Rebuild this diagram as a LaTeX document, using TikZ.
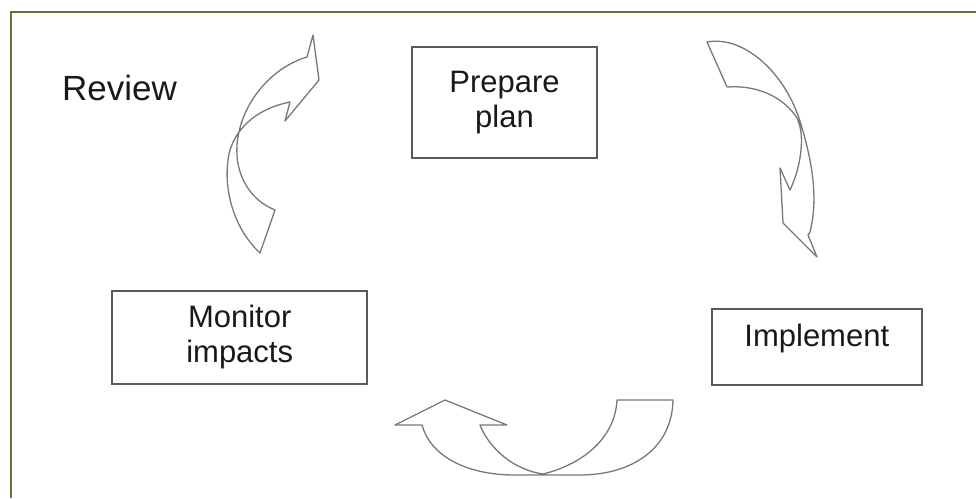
\documentclass[tikz,border=0pt]{standalone}
\usepackage{fontspec}
\setmainfont{Liberation Sans}
\usepackage{xcolor}
\usetikzlibrary{positioning}
\definecolor{framegreen}{RGB}{96,118,52}
\definecolor{boxgray}{RGB}{90,90,90}
\definecolor{arrowgray}{RGB}{120,120,120}
\definecolor{textdark}{RGB}{25,25,25}

\begin{document}
\begin{tikzpicture}[x=1pt, y=-1pt]
    \tikzstyle{stagebox} = [draw=boxgray, rectangle, line width=1.8pt, align=center, text=textdark, font=\fontsize{31}{35}\selectfont, inner sep=0pt]
    \tikzstyle{bentarrow} = [draw=arrowgray, line width=1.3pt, line join=round, fill=white]

    \useasboundingbox (0,0) rectangle (976,498);
    % frame
    \draw [framegreen, line width=2pt] (976,11.5) -- (10.5,11.5) -- (10.5,498);

    \node [anchor=base west, text=textdark, font=\fontsize{35}{39}\selectfont, inner sep=0pt] (review) at (62,100) {Review};

    \node [stagebox, minimum width=185pt, minimum height=111pt] (plan) at (504.5,102.5) {Prepare\\plan};
    \node [stagebox, minimum width=255pt, minimum height=93pt, below left=131pt and 43pt of plan] (monitor) {Monitor\\impacts};
    \node [stagebox, minimum width=210pt, minimum height=76pt, text height=22pt, text depth=22pt, below right=149pt and 113pt of plan] (implement) {Implement};

    % monitor -> plan
    \draw [bentarrow] (313,35) -- (319,80) -- (285,121) -- (290,102)
        .. controls (260,108) and (238,125) .. (230,150)
        .. controls (222,180) and (230,225) .. (260,253) -- (275,210)
        .. controls (250,200) and (235,175) .. (237,145)
        .. controls (240,105) and (270,68) .. (307,57) -- cycle;
    % plan -> implement
    \draw [bentarrow] (707,42)
        .. controls (745,35) and (788,75) .. (802,128)
        .. controls (813,165) and (818,200) .. (810,232) -- (808,235) -- (817,257)
        -- (783,223) -- (780,168) -- (790,190)
        .. controls (802,165) and (806,130) .. (795,115)
        .. controls (780,95) and (755,85) .. (727,87) -- cycle;
    % implement -> monitor
    \draw [bentarrow] (445,400) -- (507,425) -- (480,425)
        .. controls (490,450) and (515,470) .. (543,474)
        .. controls (580,465) and (615,440) .. (617,400) -- (673,400)
        .. controls (672,450) and (630,475) .. (580,475) -- (515,475)
        .. controls (465,475) and (430,455) .. (422,425) -- (395,425) -- cycle;
\end{tikzpicture}
\end{document}
